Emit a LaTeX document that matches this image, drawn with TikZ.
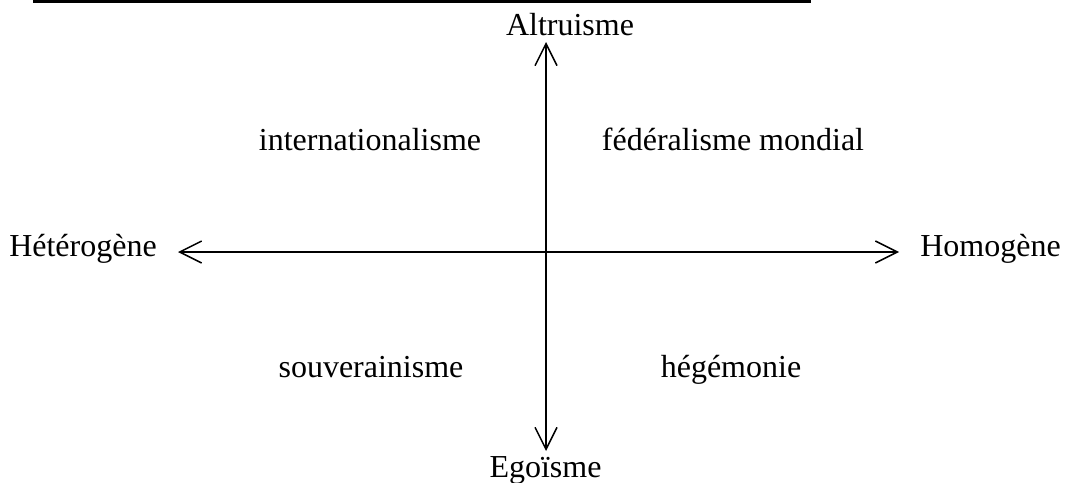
\documentclass[tikz,border=0pt]{standalone}
\usepackage{fontspec}
\setmainfont{Liberation Serif}
\usetikzlibrary{arrows.meta}

\tikzset{
    axislabel/.style={anchor=base, inner sep=0pt, font=\fontsize{24}{28}\selectfont},
    axisline/.style={line width=1.1pt, {Straight Barb[length=16.5pt, width=16.5pt, line width=1.1pt]}-{Straight Barb[length=16.5pt, width=16.5pt, line width=1.1pt]}}
}

\begin{document}
\begin{tikzpicture}[x=0.75pt, y=-0.75pt]

    % Frame of the page
    \useasboundingbox (0, 0) rectangle (1067, 482);

    % Rule at the top
    \coordinate (ruleL) at (33, 1.5);
    \coordinate (ruleR) at (811, 1.5);
    \draw[line width=1.9pt] (ruleL) -- (ruleR);

    % Ends of the axes
    \coordinate (top) at (546, 42);
    \coordinate (bottom) at (546, 451);
    \coordinate (left) at (178, 252);
    \coordinate (right) at (899, 252);

    \draw[axisline] (bottom) -- (top);
    \draw[axisline] (left) -- (right);

    % Labels of the axes
    \node[axislabel] (altruisme) at (570, 35) {Altruisme};
    \node[axislabel] (egoisme) at (545.5, 477) {Egoïsme};
    \node[axislabel] (heterogene) at (83, 256) {Hétérogène};
    \node[axislabel] (homogene) at (990.5, 256) {Homogène};

    % The four quarters
    \node[axislabel] (internat) at (370, 150) {internationalisme};
    \node[axislabel] (federal) at (733, 150) {fédéralisme mondial};
    \node[axislabel] (souverain) at (371, 377) {souverainisme};
    \node[axislabel] (hegemonie) at (731, 377) {hégémonie};

\end{tikzpicture}
\end{document}
